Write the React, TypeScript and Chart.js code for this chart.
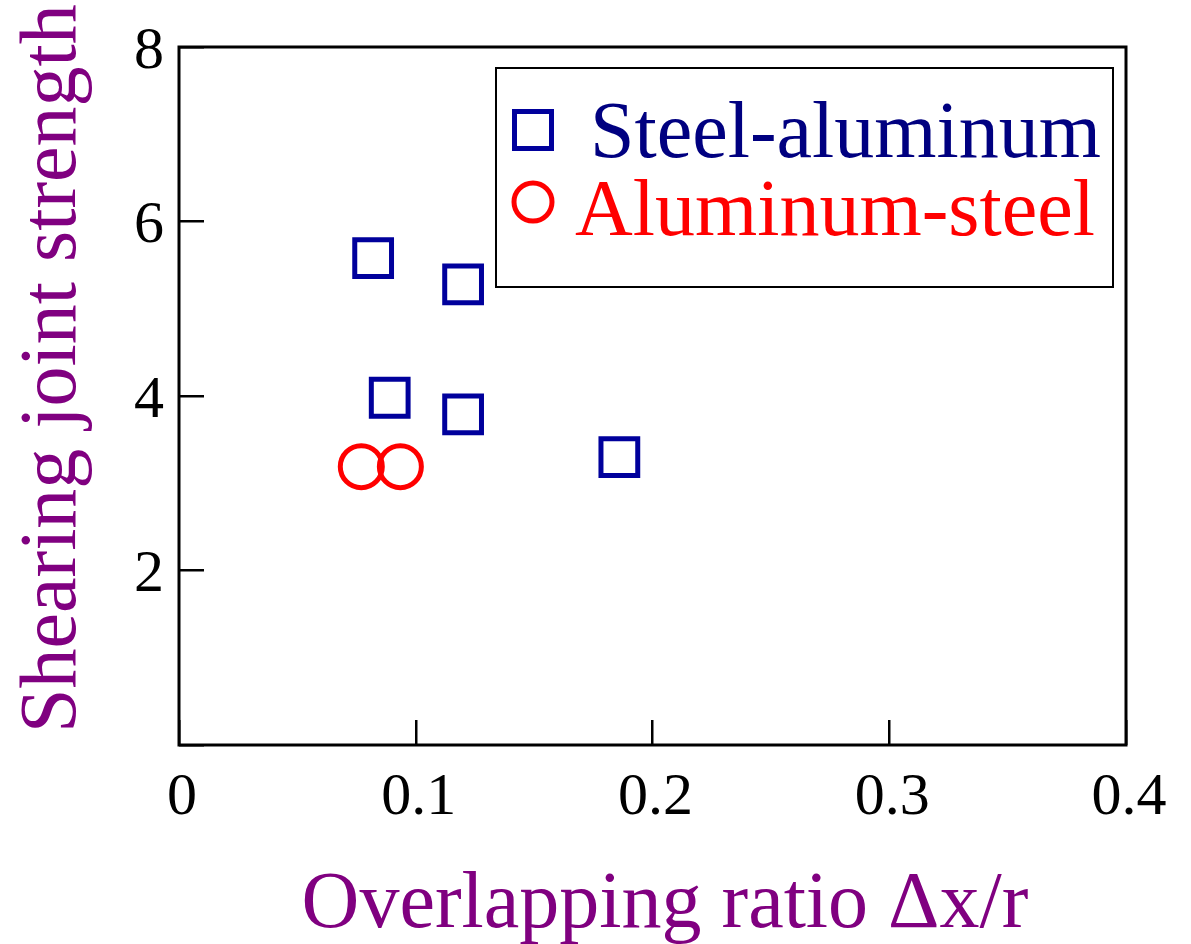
import React, { useEffect, useRef } from 'react';
import { Chart, registerables } from 'chart.js';

Chart.register(...registerables);

// ---- data ----
const seriesNames = ['Steel-aluminum', 'Aluminum-steel'];
const steelAlX = [0.082, 0.12, 0.089, 0.12, 0.186];
const steelAlY = [5.58, 5.28, 3.98, 3.79, 3.3];
const alSteelX = [0.077, 0.0935];
const alSteelY = [3.19, 3.19];
const xTickLabels = ['0', '0.1', '0.2', '0.3', '0.4'];
const yTickLabels = ['', '2', '4', '6', '8'];
const xTitle = 'Overlapping ratio \u0394x/r';
const yTitle = 'Shearing joint strength';

const NAVY = '#00009c';
const NAVY_TEXT = '#000080';
const RED = '#ff0000';
const PURPLE = '#800080';
const FONT = '"Liberation Serif", "Times New Roman", serif';

const framePlugin = {
  id: 'frameAndTitles',
  beforeDatasetsDraw(chart: any) {
    const { ctx, chartArea } = chart;
    ctx.save();
    ctx.strokeStyle = '#000';
    ctx.lineWidth = 3;
    ctx.strokeRect(chartArea.left, chartArea.top, chartArea.right - chartArea.left, chartArea.bottom - chartArea.top);
    ctx.restore();
  },
  afterDraw(chart: any) {
    const { ctx } = chart;
    ctx.save();
    ctx.fillStyle = PURPLE;
    ctx.font = `80px ${FONT}`;
    ctx.textAlign = 'center';
    ctx.textBaseline = 'alphabetic';
    ctx.fillText(xTitle, 665, 927);
    ctx.translate(75, 733);
    ctx.rotate(-Math.PI / 2);
    ctx.textAlign = 'left';
    ctx.fillText(yTitle, 0, 0);
    ctx.restore();

    // legend box
    ctx.save();
    const bx = 496, by = 68, bw = 617, bh = 219;
    ctx.fillStyle = '#fff';
    ctx.fillRect(bx, by, bw, bh);
    ctx.strokeStyle = '#000';
    ctx.lineWidth = 2;
    ctx.strokeRect(bx, by, bw, bh);
    const ds = chart.data.datasets;
    ctx.lineWidth = 5;
    ctx.strokeStyle = ds[0].borderColor;
    ctx.strokeRect(533 - 18.5, 130 - 18.5, 37, 37);
    ctx.fillStyle = NAVY_TEXT;
    ctx.font = `80px ${FONT}`;
    ctx.textAlign = 'left';
    ctx.textBaseline = 'alphabetic';
    ctx.fillText(ds[0].label, 590, 157);
    ctx.strokeStyle = ds[1].borderColor;
    ctx.beginPath();
    ctx.arc(533, 202, 19, 0, Math.PI * 2);
    ctx.stroke();
    ctx.fillStyle = RED;
    ctx.fillText(ds[1].label, 575, 235);
    ctx.restore();
  },
};

export default function App() {
  const ref = useRef<HTMLCanvasElement | null>(null);
  useEffect(() => {
    if (!ref.current) return;
    const chart = new Chart(ref.current, {
      type: 'scatter',
      data: {
        datasets: [
          {
            label: seriesNames[0],
            data: steelAlX.map((x, i) => ({ x, y: steelAlY[i] })),
            pointStyle: 'rect',
            pointRadius: 26,
            pointBorderWidth: 5,
            borderColor: NAVY,
            backgroundColor: 'rgba(0,0,0,0)',
          },
          {
            label: seriesNames[1],
            data: alSteelX.map((x, i) => ({ x, y: alSteelY[i] })),
            pointStyle: 'circle',
            pointRadius: 21,
            pointBorderWidth: 5,
            borderColor: RED,
            backgroundColor: 'rgba(0,0,0,0)',
          },
        ],
      },
      options: {
        animation: false,
        responsive: false,
        events: [],
        layout: { padding: { top: 47, right: 65, left: 0, bottom: 0 } },
        plugins: { legend: { display: false }, tooltip: { enabled: false } },
        scales: {
          x: {
            type: 'linear',
            min: 0,
            max: 0.4,
            afterFit: (s: any) => { s.height = 199; s.paddingLeft = 0; s.paddingRight = 0; },
            afterBuildTicks: (s: any) => { s.ticks = xTickLabels.map((_, i) => ({ value: i * 0.1 })); },
            border: { display: false },
            grid: { drawOnChartArea: false, drawTicks: true, tickLength: -25, color: '#000', lineWidth: 2.5 },
            ticks: {
              padding: 42,
              labelOffset: 3,
              color: '#000',
              font: { family: FONT, size: 60 },
              maxRotation: 0,
              autoSkip: false,
              callback: (_v: any, i: number) => xTickLabels[i],
            },
          },
          y: {
            type: 'linear',
            min: 0,
            max: 8,
            afterFit: (s: any) => { s.width = 179; s.paddingTop = 0; s.paddingBottom = 0; },
            afterBuildTicks: (s: any) => { s.ticks = yTickLabels.map((_, i) => ({ value: i * 2 })); },
            border: { display: false },
            grid: { drawOnChartArea: false, drawTicks: true, tickLength: -25, color: '#000', lineWidth: 2.5 },
            ticks: {
              padding: 40,
              labelOffset: 5,
              color: '#000',
              font: { family: FONT, size: 60 },
              autoSkip: false,
              callback: (_v: any, i: number) => yTickLabels[i],
            },
          },
        },
      },
      plugins: [framePlugin],
    });
    return () => chart.destroy();
  }, []);
  return (
    <div style={{ position: 'absolute', left: 0, top: 0, width: 1191, height: 944, background: '#fff' }}>
      <canvas ref={ref} width={1191} height={944} style={{ display: 'block' }} />
    </div>
  );
}
